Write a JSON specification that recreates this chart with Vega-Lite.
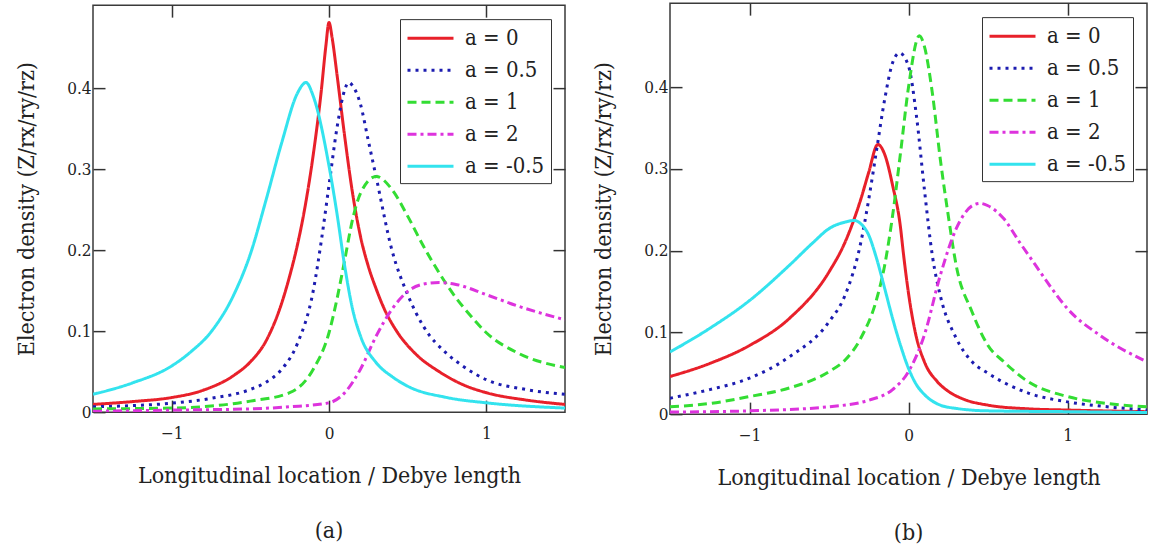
{
  "$schema": "https://vega.github.io/schema/vega-lite/v6.json",
  "background": "white",
  "padding": {"left": 14, "top": 1, "right": 2, "bottom": 2},
  "spacing": 24,
  "center": true,
  "config": {
    "font": "DejaVu Serif Condensed",
    "view": {"stroke": "#3a3a3a", "strokeWidth": 1.5},
    "axis": {
      "labelFont": "DejaVu Serif Condensed",
      "titleFont": "DejaVu Serif Condensed",
      "labelFontSize": 17, "titleFontSize": 23, "titleFontWeight": "normal",
      "labelColor": "#222", "titleColor": "#222",
      "tickColor": "#333", "tickWidth": 1.5, "tickSize": -12,
      "domain": false, "grid": false
    },
    "legend": {
      "orient": "top-right", "offset": 14,
      "symbolType": "M-1,0H3", "symbolSize": 529, "symbolStrokeWidth": 3,
      "labelFont": "DejaVu Serif Condensed",
      "labelFontSize": 22, "labelColor": "#222",
      "strokeColor": "#333", "fillColor": "white", "padding": 6,
      "rowPadding": 8, "labelOffset": 33, "cornerRadius": 0
    },
    "title": {"font": "DejaVu Serif Condensed", "fontSize": 23, "fontWeight": "normal", "color": "#222"}
  },
  "datasets": {
    "pa": [
      {"s": "a = 0", "x": -1.5, "y": 0.0095}, {"s": "a = 0", "x": -1.25, "y": 0.013}, {"s": "a = 0", "x": -1.0, "y": 0.018},
      {"s": "a = 0", "x": -0.8, "y": 0.027}, {"s": "a = 0", "x": -0.6, "y": 0.046}, {"s": "a = 0", "x": -0.5, "y": 0.062},
      {"s": "a = 0", "x": -0.4, "y": 0.088}, {"s": "a = 0", "x": -0.3, "y": 0.135}, {"s": "a = 0", "x": -0.25, "y": 0.168},
      {"s": "a = 0", "x": -0.2, "y": 0.207}, {"s": "a = 0", "x": -0.15, "y": 0.256}, {"s": "a = 0", "x": -0.1, "y": 0.318},
      {"s": "a = 0", "x": -0.05, "y": 0.395}, {"s": "a = 0", "x": -0.02, "y": 0.452}, {"s": "a = 0", "x": 0.0, "y": 0.481},
      {"s": "a = 0", "x": 0.02, "y": 0.462}, {"s": "a = 0", "x": 0.05, "y": 0.418}, {"s": "a = 0", "x": 0.1, "y": 0.34},
      {"s": "a = 0", "x": 0.15, "y": 0.27}, {"s": "a = 0", "x": 0.2, "y": 0.217}, {"s": "a = 0", "x": 0.25, "y": 0.18},
      {"s": "a = 0", "x": 0.3, "y": 0.152}, {"s": "a = 0", "x": 0.35, "y": 0.128}, {"s": "a = 0", "x": 0.43, "y": 0.1},
      {"s": "a = 0", "x": 0.55, "y": 0.072}, {"s": "a = 0", "x": 0.7, "y": 0.05}, {"s": "a = 0", "x": 0.85, "y": 0.034},
      {"s": "a = 0", "x": 1.0, "y": 0.024}, {"s": "a = 0", "x": 1.25, "y": 0.015}, {"s": "a = 0", "x": 1.5, "y": 0.0095},

      {"s": "a = 0.5", "x": -1.5, "y": 0.0066}, {"s": "a = 0.5", "x": -1.25, "y": 0.008}, {"s": "a = 0.5", "x": -1.0, "y": 0.011},
      {"s": "a = 0.5", "x": -0.75, "y": 0.017}, {"s": "a = 0.5", "x": -0.5, "y": 0.028}, {"s": "a = 0.5", "x": -0.4, "y": 0.037},
      {"s": "a = 0.5", "x": -0.3, "y": 0.053}, {"s": "a = 0.5", "x": -0.2, "y": 0.085}, {"s": "a = 0.5", "x": -0.1, "y": 0.15},
      {"s": "a = 0.5", "x": -0.05, "y": 0.21}, {"s": "a = 0.5", "x": 0.0, "y": 0.28}, {"s": "a = 0.5", "x": 0.05, "y": 0.35},
      {"s": "a = 0.5", "x": 0.1, "y": 0.398}, {"s": "a = 0.5", "x": 0.125, "y": 0.407}, {"s": "a = 0.5", "x": 0.15, "y": 0.403},
      {"s": "a = 0.5", "x": 0.2, "y": 0.38}, {"s": "a = 0.5", "x": 0.25, "y": 0.335}, {"s": "a = 0.5", "x": 0.3, "y": 0.29},
      {"s": "a = 0.5", "x": 0.4, "y": 0.2}, {"s": "a = 0.5", "x": 0.5, "y": 0.145}, {"s": "a = 0.5", "x": 0.6, "y": 0.106},
      {"s": "a = 0.5", "x": 0.75, "y": 0.072}, {"s": "a = 0.5", "x": 0.85, "y": 0.057}, {"s": "a = 0.5", "x": 1.0, "y": 0.04},
      {"s": "a = 0.5", "x": 1.25, "y": 0.028}, {"s": "a = 0.5", "x": 1.5, "y": 0.022},

      {"s": "a = 1", "x": -1.5, "y": 0.004}, {"s": "a = 1", "x": -1.0, "y": 0.005}, {"s": "a = 1", "x": -0.5, "y": 0.0136},
      {"s": "a = 1", "x": -0.25, "y": 0.024}, {"s": "a = 1", "x": -0.1, "y": 0.053}, {"s": "a = 1", "x": 0.0, "y": 0.098},
      {"s": "a = 1", "x": 0.05, "y": 0.139}, {"s": "a = 1", "x": 0.1, "y": 0.188}, {"s": "a = 1", "x": 0.15, "y": 0.238},
      {"s": "a = 1", "x": 0.2, "y": 0.27}, {"s": "a = 1", "x": 0.3, "y": 0.291}, {"s": "a = 1", "x": 0.4, "y": 0.275},
      {"s": "a = 1", "x": 0.5, "y": 0.242}, {"s": "a = 1", "x": 0.6, "y": 0.205}, {"s": "a = 1", "x": 0.7, "y": 0.172},
      {"s": "a = 1", "x": 0.8, "y": 0.143}, {"s": "a = 1", "x": 0.9, "y": 0.119}, {"s": "a = 1", "x": 1.0, "y": 0.098},
      {"s": "a = 1", "x": 1.2, "y": 0.073}, {"s": "a = 1", "x": 1.5, "y": 0.055},

      {"s": "a = 2", "x": -1.5, "y": 0.001}, {"s": "a = 2", "x": -1.0, "y": 0.0025}, {"s": "a = 2", "x": -0.5, "y": 0.004},
      {"s": "a = 2", "x": -0.25, "y": 0.0066}, {"s": "a = 2", "x": 0.0, "y": 0.0115}, {"s": "a = 2", "x": 0.1, "y": 0.024},
      {"s": "a = 2", "x": 0.2, "y": 0.053}, {"s": "a = 2", "x": 0.3, "y": 0.094}, {"s": "a = 2", "x": 0.4, "y": 0.127},
      {"s": "a = 2", "x": 0.5, "y": 0.149}, {"s": "a = 2", "x": 0.6, "y": 0.158}, {"s": "a = 2", "x": 0.7, "y": 0.16},
      {"s": "a = 2", "x": 0.8, "y": 0.158}, {"s": "a = 2", "x": 1.0, "y": 0.145}, {"s": "a = 2", "x": 1.2, "y": 0.131},
      {"s": "a = 2", "x": 1.5, "y": 0.114},

      {"s": "a = -0.5", "x": -1.5, "y": 0.022}, {"s": "a = -0.5", "x": -1.25, "y": 0.036}, {"s": "a = -0.5", "x": -1.0, "y": 0.057},
      {"s": "a = -0.5", "x": -0.875, "y": 0.075}, {"s": "a = -0.5", "x": -0.75, "y": 0.099}, {"s": "a = -0.5", "x": -0.6, "y": 0.147},
      {"s": "a = -0.5", "x": -0.5, "y": 0.195}, {"s": "a = -0.5", "x": -0.4, "y": 0.262}, {"s": "a = -0.5", "x": -0.3, "y": 0.333},
      {"s": "a = -0.5", "x": -0.2, "y": 0.394}, {"s": "a = -0.5", "x": -0.146, "y": 0.407}, {"s": "a = -0.5", "x": -0.1, "y": 0.39},
      {"s": "a = -0.5", "x": 0.0, "y": 0.304}, {"s": "a = -0.5", "x": 0.05, "y": 0.246}, {"s": "a = -0.5", "x": 0.1, "y": 0.18},
      {"s": "a = -0.5", "x": 0.15, "y": 0.127}, {"s": "a = -0.5", "x": 0.2, "y": 0.094}, {"s": "a = -0.5", "x": 0.3, "y": 0.061},
      {"s": "a = -0.5", "x": 0.4, "y": 0.044}, {"s": "a = -0.5", "x": 0.5, "y": 0.032}, {"s": "a = -0.5", "x": 0.75, "y": 0.018},
      {"s": "a = -0.5", "x": 1.0, "y": 0.0115}, {"s": "a = -0.5", "x": 1.5, "y": 0.005}
    ],
    "pb": [
      {"s": "a = 0", "x": -1.5, "y": 0.046}, {"s": "a = 0", "x": -1.25, "y": 0.062}, {"s": "a = 0", "x": -1.0, "y": 0.084},
      {"s": "a = 0", "x": -0.75, "y": 0.117}, {"s": "a = 0", "x": -0.5, "y": 0.174}, {"s": "a = 0", "x": -0.4, "y": 0.21},
      {"s": "a = 0", "x": -0.3, "y": 0.263}, {"s": "a = 0", "x": -0.25, "y": 0.296}, {"s": "a = 0", "x": -0.193, "y": 0.33},
      {"s": "a = 0", "x": -0.15, "y": 0.318}, {"s": "a = 0", "x": -0.1, "y": 0.28}, {"s": "a = 0", "x": -0.05, "y": 0.228},
      {"s": "a = 0", "x": -0.034, "y": 0.2}, {"s": "a = 0", "x": 0.0, "y": 0.148}, {"s": "a = 0", "x": 0.045, "y": 0.098},
      {"s": "a = 0", "x": 0.1, "y": 0.064}, {"s": "a = 0", "x": 0.18, "y": 0.04}, {"s": "a = 0", "x": 0.25, "y": 0.028},
      {"s": "a = 0", "x": 0.35, "y": 0.018}, {"s": "a = 0", "x": 0.5, "y": 0.011},
      {"s": "a = 0", "x": 0.75, "y": 0.0065}, {"s": "a = 0", "x": 1.0, "y": 0.005}, {"s": "a = 0", "x": 1.5, "y": 0.003},

      {"s": "a = 0.5", "x": -1.5, "y": 0.0195}, {"s": "a = 0.5", "x": -1.25, "y": 0.03}, {"s": "a = 0.5", "x": -1.0, "y": 0.044},
      {"s": "a = 0.5", "x": -0.75, "y": 0.07}, {"s": "a = 0.5", "x": -0.5, "y": 0.113}, {"s": "a = 0.5", "x": -0.4, "y": 0.145},
      {"s": "a = 0.5", "x": -0.3, "y": 0.21}, {"s": "a = 0.5", "x": -0.25, "y": 0.263}, {"s": "a = 0.5", "x": -0.2, "y": 0.324},
      {"s": "a = 0.5", "x": -0.15, "y": 0.385}, {"s": "a = 0.5", "x": -0.1, "y": 0.43}, {"s": "a = 0.5", "x": -0.057, "y": 0.442},
      {"s": "a = 0.5", "x": 0.0, "y": 0.426}, {"s": "a = 0.5", "x": 0.05, "y": 0.365}, {"s": "a = 0.5", "x": 0.1, "y": 0.275},
      {"s": "a = 0.5", "x": 0.15, "y": 0.194}, {"s": "a = 0.5", "x": 0.2, "y": 0.145}, {"s": "a = 0.5", "x": 0.3, "y": 0.093},
      {"s": "a = 0.5", "x": 0.4, "y": 0.064}, {"s": "a = 0.5", "x": 0.5, "y": 0.05}, {"s": "a = 0.5", "x": 0.75, "y": 0.026},
      {"s": "a = 0.5", "x": 1.0, "y": 0.015}, {"s": "a = 0.5", "x": 1.25, "y": 0.009}, {"s": "a = 0.5", "x": 1.5, "y": 0.005},

      {"s": "a = 1", "x": -1.5, "y": 0.009}, {"s": "a = 1", "x": -1.25, "y": 0.013}, {"s": "a = 1", "x": -1.0, "y": 0.0215},
      {"s": "a = 1", "x": -0.75, "y": 0.032}, {"s": "a = 1", "x": -0.5, "y": 0.052}, {"s": "a = 1", "x": -0.4, "y": 0.066},
      {"s": "a = 1", "x": -0.3, "y": 0.093}, {"s": "a = 1", "x": -0.2, "y": 0.141}, {"s": "a = 1", "x": -0.15, "y": 0.182},
      {"s": "a = 1", "x": -0.1, "y": 0.243}, {"s": "a = 1", "x": -0.05, "y": 0.32}, {"s": "a = 1", "x": 0.0, "y": 0.40},
      {"s": "a = 1", "x": 0.068, "y": 0.463}, {"s": "a = 1", "x": 0.1, "y": 0.45}, {"s": "a = 1", "x": 0.15, "y": 0.393},
      {"s": "a = 1", "x": 0.2, "y": 0.312}, {"s": "a = 1", "x": 0.25, "y": 0.243}, {"s": "a = 1", "x": 0.3, "y": 0.182},
      {"s": "a = 1", "x": 0.4, "y": 0.125}, {"s": "a = 1", "x": 0.5, "y": 0.084}, {"s": "a = 1", "x": 0.6, "y": 0.064},
      {"s": "a = 1", "x": 0.75, "y": 0.04}, {"s": "a = 1", "x": 1.0, "y": 0.0215}, {"s": "a = 1", "x": 1.25, "y": 0.013},
      {"s": "a = 1", "x": 1.5, "y": 0.009},

      {"s": "a = 2", "x": -1.5, "y": 0.0025}, {"s": "a = 2", "x": -1.0, "y": 0.004}, {"s": "a = 2", "x": -0.5, "y": 0.009},
      {"s": "a = 2", "x": -0.25, "y": 0.017}, {"s": "a = 2", "x": -0.1, "y": 0.03}, {"s": "a = 2", "x": 0.0, "y": 0.052},
      {"s": "a = 2", "x": 0.1, "y": 0.097}, {"s": "a = 2", "x": 0.2, "y": 0.17}, {"s": "a = 2", "x": 0.3, "y": 0.227},
      {"s": "a = 2", "x": 0.4, "y": 0.255}, {"s": "a = 2", "x": 0.45, "y": 0.258}, {"s": "a = 2", "x": 0.5, "y": 0.255},
      {"s": "a = 2", "x": 0.6, "y": 0.239}, {"s": "a = 2", "x": 0.7, "y": 0.21}, {"s": "a = 2", "x": 0.8, "y": 0.182},
      {"s": "a = 2", "x": 0.9, "y": 0.154}, {"s": "a = 2", "x": 1.0, "y": 0.129}, {"s": "a = 2", "x": 1.2, "y": 0.097},
      {"s": "a = 2", "x": 1.5, "y": 0.064},

      {"s": "a = -0.5", "x": -1.5, "y": 0.076}, {"s": "a = -0.5", "x": -1.25, "y": 0.105}, {"s": "a = -0.5", "x": -1.0, "y": 0.139},
      {"s": "a = -0.5", "x": -0.75, "y": 0.182}, {"s": "a = -0.5", "x": -0.6, "y": 0.21}, {"s": "a = -0.5", "x": -0.5, "y": 0.227},
      {"s": "a = -0.5", "x": -0.4, "y": 0.235}, {"s": "a = -0.5", "x": -0.34, "y": 0.237}, {"s": "a = -0.5", "x": -0.3, "y": 0.233},
      {"s": "a = -0.5", "x": -0.25, "y": 0.219}, {"s": "a = -0.5", "x": -0.2, "y": 0.19}, {"s": "a = -0.5", "x": -0.15, "y": 0.154},
      {"s": "a = -0.5", "x": -0.1, "y": 0.117}, {"s": "a = -0.5", "x": -0.05, "y": 0.084}, {"s": "a = -0.5", "x": 0.0, "y": 0.056},
      {"s": "a = -0.5", "x": 0.05, "y": 0.036}, {"s": "a = -0.5", "x": 0.1, "y": 0.024}, {"s": "a = -0.5", "x": 0.2, "y": 0.011},
      {"s": "a = -0.5", "x": 0.3, "y": 0.007}, {"s": "a = -0.5", "x": 0.5, "y": 0.004}, {"s": "a = -0.5", "x": 1.0, "y": 0.003},
      {"s": "a = -0.5", "x": 1.5, "y": 0.002}
    ]
  },
  "hconcat": [
    {
      "width": 472, "height": 407,
      "data": {"name": "pa"},
      "title": {"text": "(a)", "orient": "bottom", "offset": 33},
      "layer": [
        {
          "mark": {"type": "line", "strokeWidth": 3, "interpolate": "monotone", "clip": true},
          "encoding": {
            "x": {"field": "x", "type": "quantitative", "scale": {"domain": [-1.5, 1.5], "nice": false, "zero": false},
                  "axis": {"orient": "bottom", "values": [-1, 0, 1], "labelPadding": 25, "title": "Longitudinal location / Debye length", "titlePadding": 23}},
            "y": {"field": "y", "type": "quantitative", "scale": {"domain": [0, 0.5025], "nice": false},
                  "axis": {"orient": "left", "values": [0, 0.1, 0.2, 0.3, 0.4], "format": ".1~f", "labelPadding": 14, "title": "Electron density (Z/rx/ry/rz)", "titlePadding": 28}},
            "color": {"field": "s", "type": "nominal", "title": null,
                      "scale": {"domain": ["a = 0", "a = 0.5", "a = 1", "a = 2", "a = -0.5"], "range": ["#e8202a", "#1c1cb0", "#33dd33", "#dd33dd", "#33e3ee"]}},
            "strokeDash": {"field": "s", "type": "nominal", "title": null,
                      "scale": {"domain": ["a = 0", "a = 0.5", "a = 1", "a = 2", "a = -0.5"], "range": [[1, 0], [3, 5], [9, 5], [9, 4, 3, 4], [1, 0]]}},
            "order": {"field": "x", "type": "quantitative"}
          }
        },
        {
          "mark": {"type": "line", "opacity": 0},
          "encoding": {
            "x": {"field": "x", "type": "quantitative", "axis": {"orient": "top", "values": [-1, 0, 1], "labels": false, "title": null}},
            "y": {"field": "y", "type": "quantitative", "axis": {"orient": "right", "values": [0.1, 0.2, 0.3, 0.4], "labels": false, "title": null}},
            "detail": {"field": "s"}
          }
        }
      ],
      "resolve": {"axis": {"x": "independent", "y": "independent"}}
    },
    {
      "width": 477, "height": 411,
      "data": {"name": "pb"},
      "title": {"text": "(b)", "orient": "bottom", "offset": 33},
      "layer": [
        {
          "mark": {"type": "line", "strokeWidth": 3, "interpolate": "monotone", "clip": true},
          "encoding": {
            "x": {"field": "x", "type": "quantitative", "scale": {"domain": [-1.5, 1.5], "nice": false, "zero": false},
                  "axis": {"orient": "bottom", "values": [-1, 0, 1], "labelPadding": 25, "title": "Longitudinal location / Debye length", "titlePadding": 23}},
            "y": {"field": "y", "type": "quantitative", "scale": {"domain": [0, 0.503], "nice": false},
                  "axis": {"orient": "left", "values": [0, 0.1, 0.2, 0.3, 0.4], "format": ".1~f", "labelPadding": 14, "title": "Electron density (Z/rx/ry/rz)", "titlePadding": 28}},
            "color": {"field": "s", "type": "nominal", "title": null,
                      "scale": {"domain": ["a = 0", "a = 0.5", "a = 1", "a = 2", "a = -0.5"], "range": ["#e8202a", "#1c1cb0", "#33dd33", "#dd33dd", "#33e3ee"]}},
            "strokeDash": {"field": "s", "type": "nominal", "title": null,
                      "scale": {"domain": ["a = 0", "a = 0.5", "a = 1", "a = 2", "a = -0.5"], "range": [[1, 0], [3, 5], [9, 5], [9, 4, 3, 4], [1, 0]]}},
            "order": {"field": "x", "type": "quantitative"}
          }
        },
        {
          "mark": {"type": "line", "opacity": 0},
          "encoding": {
            "x": {"field": "x", "type": "quantitative", "axis": {"orient": "top", "values": [-1, 0, 1], "labels": false, "title": null}},
            "y": {"field": "y", "type": "quantitative", "axis": {"orient": "right", "values": [0.1, 0.2, 0.3, 0.4], "labels": false, "title": null}},
            "detail": {"field": "s"}
          }
        }
      ],
      "resolve": {"axis": {"x": "independent", "y": "independent"}}
    }
  ],
  "resolve": {"scale": {"color": "independent", "strokeDash": "independent"}}
}
